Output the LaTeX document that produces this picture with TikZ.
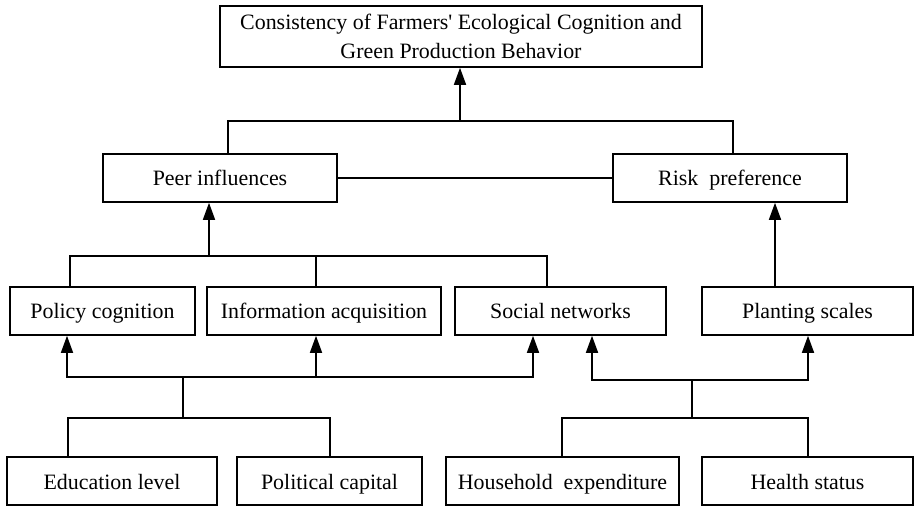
\documentclass[tikz,border=0pt]{standalone}
\usepackage{fontspec}
\setmainfont{Liberation Serif}[Ligatures=TeXOff]
\usetikzlibrary{arrows.meta}
\begin{document}
\begin{tikzpicture}[x=1bp,y=-1bp,
  box/.style={draw,line width=1.6bp,minimum height=48bp,inner sep=0pt,
    font=\fontsize{22}{29}\selectfont,anchor=center,text height=21bp,text depth=5bp},
  ln/.style={line width=1.6bp},
  arr/.style={line width=1.6bp,-{Triangle[length=17bp,width=12bp]}}]
\useasboundingbox (0,0) rectangle (914,506);
% nodes
\node[box,minimum width=482bp,minimum height=61bp,align=center,text height=,text depth=] (top) at (461,36.5)
  {Consistency of Farmers' Ecological Cognition and\\Green Production Behavior};
\node[box,minimum width=234bp] (peer) at (220,178) {Peer influences};
\node[box,minimum width=234bp] (risk) at (730,178) {Risk\ \ preference};
\node[box,minimum width=185bp] (policy) at (102.5,311) {Policy cognition};
\node[box,minimum width=234bp] (info) at (324,311) {Information acquisition};
\node[box,minimum width=211bp] (social) at (560.5,311) {Social networks};
\node[box,minimum width=211bp] (planting) at (807.5,311) {Planting scales};
\node[box,minimum width=210bp] (edu) at (112,481) {Education level};
\node[box,minimum width=185bp] (pol) at (329.5,481) {Political capital};
\node[box,minimum width=233bp] (house) at (562.5,481) {Household\ \ expenditure};
\node[box,minimum width=211bp] (health) at (807.5,481) {Health status};
% junctions
\coordinate (t1) at (460,121);
\coordinate (a1) at (209,256);
\coordinate (b1) at (183,377);
\coordinate (b2) at (183,418);
\coordinate (c1) at (692,380);
\coordinate (c2) at (692,418);
\coordinate (pn) at ([xshift=-32.5bp]planting.north);
% top level
\draw[ln] ([xshift=8bp]peer.north) |- (t1) -| ([xshift=3bp]risk.north);
\draw[arr] (t1) -- (t1 |- top.south);
\draw[ln] (peer) -- (risk);
% middle level
\draw[ln] ([xshift=-32.5bp]policy.north) |- (a1) -| ([xshift=-13.5bp]social.north);
\draw[ln] ([xshift=-8bp]info.north) -- ++(0,-31);
\draw[arr] (a1) -- (a1 |- peer.south);
\draw[arr] (pn) -- (pn |- risk.south);
% lower left
\draw[ln] (b2) -- (b1);
\draw[arr] (b1) -| ([xshift=-35.5bp]policy.south);
\draw[arr] (b1) -| ([xshift=-8bp]info.south);
\draw[arr] (b1) -| ([xshift=-27.5bp]social.south);
\draw[ln] ([xshift=-44bp]edu.north) |- (b2) -| ([xshift=0.5bp]pol.north);
% lower right
\draw[ln] (c2) -- (c1);
\draw[arr] (c1) -| ([xshift=0.5bp]planting.south);
\draw[arr] (c1) -| ([xshift=31.5bp]social.south);
\draw[ln] ([xshift=-0.5bp]house.north) |- (c2) -| ([xshift=0.5bp]health.north);
\end{tikzpicture}
\end{document}
